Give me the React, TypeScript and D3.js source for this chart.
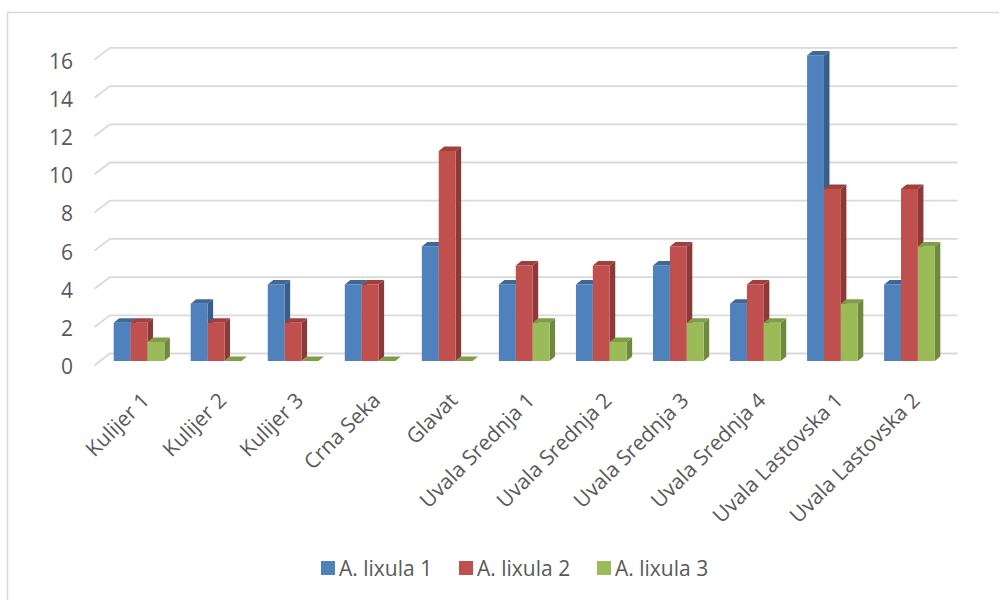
import React from "react";
import * as d3 from "d3";

const categories = [
  "Kulijer 1", "Kulijer 2", "Kulijer 3", "Crna Seka", "Glavat",
  "Uvala Srednja 1", "Uvala Srednja 2", "Uvala Srednja 3", "Uvala Srednja 4",
  "Uvala Lastovska 1", "Uvala Lastovska 2",
];
const seriesNames = ["A. lixula 1", "A. lixula 2", "A. lixula 3"];
const lixula1 = [2, 3, 4, 4, 6, 4, 4, 5, 3, 16, 4];
const lixula2 = [2, 2, 2, 4, 11, 5, 5, 6, 4, 9, 9];
const lixula3 = [1, 0, 0, 0, 0, 2, 1, 2, 2, 3, 6];
const yTicks = [0, 2, 4, 6, 8, 10, 12, 14, 16];

const seriesValues = [lixula1, lixula2, lixula3];
const fronts = ["#4F81BD", "#C0504D", "#9BBB59"];
const sides = ["#395E8C", "#8C3A38", "#6F8A3E"];
const tops = ["#3F6899", "#A23F3D", "#7F9E47"];

const W = 999;
const H = 600;
// back wall
const wallL = 110;
const wallR = 957.5;
const wallBase = 353.5;
// floor depth offset (front edge relative to back wall)
const floorDx = -15.5;
const floorDy = 11.7;
// bar front plane
const barX0 = 100.5;
const barBase = 361;
const depthDx = 5.5;
const depthDy = -4.5;
const FONT = "'Open Sans', sans-serif";
const TEXT = "#595959";
const GRID = "#D9D9D9";
const FS = 21;

export default function App() {
  const unit = 19.1;
  const yWall = d3.scaleLinear().domain([0, 16]).range([wallBase, wallBase - 16 * unit]);
  const yBar = d3.scaleLinear().domain([0, 16]).range([barBase, barBase - 16 * unit]);
  const x = d3
    .scaleBand<string>()
    .domain(categories)
    .range([barX0, barX0 + (wallR - wallL)])
    .paddingInner(0)
    .paddingOuter(0);
  const bw = 16.9;
  const groupW = bw * 3;

  const bars: React.ReactNode[] = [];
  categories.forEach((c, i) => {
    const cx = (x(c) as number) + x.bandwidth() / 2;
    const gx = cx - groupW / 2;
    seriesValues.forEach((vals, s) => {
      const v = vals[i];
      const x0 = gx + s * bw;
      const x1 = x0 + bw;
      const yt = yBar(v);
      const yb = yBar(0);
      const front = `M${x0},${yb}L${x0},${yt}L${x1},${yt}L${x1},${yb}Z`;
      const side = `M${x1},${yb}L${x1},${yt}L${x1 + depthDx},${yt + depthDy}L${x1 + depthDx},${yb + depthDy}Z`;
      const top = `M${x0},${yt}L${x0 + depthDx},${yt + depthDy}L${x1 + depthDx},${yt + depthDy}L${x1},${yt}Z`;
      bars.push(
        <g key={`${i}-${s}`}>
          <path d={side} fill={sides[s]} />
          <path d={front} fill={fronts[s]} />
          <path d={top} fill={tops[s]} />
        </g>
      );
    });
  });

  const legendX = [321, 459, 597];

  return (
    <svg width={W} height={H} style={{ position: "absolute", left: 0, top: 0 }}>
      <rect x={0} y={0} width={W} height={H} fill="#fff" />
      <rect x={7.5} y={12.5} width={W} height={H} fill="none" stroke={GRID} strokeWidth={1.5} />
      {yTicks.map((t) => {
        const yb = yWall(t);
        return (
          <g key={t}>
            <path
              d={`M${wallL + floorDx},${yb + floorDy}L${wallL},${yb}L${wallR},${yb}`}
              fill="none"
              stroke={GRID}
              strokeWidth={1.8}
            />
            <text
              x={73}
              y={yb + floorDy + 1}
              textAnchor="end"
              dominantBaseline="central"
              fontFamily={FONT}
              fontSize={FS}
              fill={TEXT}
            >
              {t}
            </text>
          </g>
        );
      })}
      {bars}
      {categories.map((c) => {
        const cx = (x(c) as number) + x.bandwidth() / 2;
        return (
          <text
            key={c}
            transform={`translate(${cx + 1},${391}) rotate(-45)`}
            textAnchor="end"
            dy="0.72em"
            fontFamily={FONT}
            fontSize={FS}
            fill={TEXT}
          >
            {c}
          </text>
        );
      })}
      {seriesNames.map((n, s) => (
        <g key={n}>
          <rect x={legendX[s]} y={561} width={14} height={14} fill={fronts[s]} />
          <text x={legendX[s] + 18} y={568} dominantBaseline="central" fontFamily={FONT} fontSize={FS} fill={TEXT}>
            {n}
          </text>
        </g>
      ))}
    </svg>
  );
}
